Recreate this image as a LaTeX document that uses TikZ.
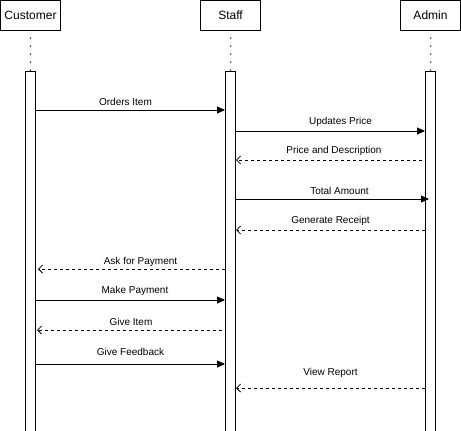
\documentclass[tikz,border=0pt]{standalone}
\usepackage{fontspec}
\setmainfont{Liberation Sans}
\usetikzlibrary{arrows.meta}

\begin{document}
\begin{tikzpicture}[x=1pt, y=-1pt, line width=1pt,
  actor/.style={draw, minimum width=60pt, minimum height=30pt, inner sep=0pt,
    font=\fontsize{12}{14}\selectfont},
  lifebar/.style={draw, fill=white, minimum width=10pt, minimum height=360pt,
    inner sep=0pt, anchor=north},
  lifeline/.style={line width=1.5pt, line cap=round, dash pattern=on 0pt off 8pt},
  lbl/.style={midway, above, inner sep=4pt, font=\fontsize{10}{12}\selectfont},
  call/.style={-{Triangle[length=8pt, width=7pt]}},
  reply/.style={dash pattern=on 3pt off 3pt,
    -{Straight Barb[length=4pt, width=8pt, line width=0.8pt]}}
]
\useasboundingbox (0,0) rectangle (461,431);

% participants
\node[actor] (cust)  at (30.5,15.5)  {Customer};
\node[actor] (staff) at (230.5,15.5) {Staff};
\node[actor] (admin) at (430.5,15.5) {Admin};

% activation bars
\node[lifebar] (cbar) at (30.5,70.5)  {};
\node[lifebar] (sbar) at (230.5,70.5) {};
\node[lifebar] (abar) at (430.5,70.5) {};

% dotted lifelines between heads and bars
\draw[lifeline] ([yshift=-7pt]cust.south)  -- (cbar.north);
\draw[lifeline] ([yshift=-7pt]staff.south) -- (sbar.north);
\draw[lifeline] ([yshift=-7pt]admin.south) -- (abar.north);

% messages
\draw[call]  (cbar.east |- 0,110) -- (sbar.west |- 0,110)
  node[lbl, xshift=-5pt] {Orders Item};
\draw[call]  (sbar.east |- 0,131) -- (abar.west |- 0,131)
  node[lbl, xshift=10pt] {Updates Price};
\draw[reply] ([xshift=-3pt]abar.west |- 0,160) -- (sbar.east |- 0,160)
  node[lbl, xshift=5pt] {Price and Description};
\draw[call]  (sbar.east |- 0,199) -- ([xshift=4pt]abar.west |- 0,199)
  node[lbl, xshift=7pt] {Total Amount};
\draw[reply] (abar.west |- 0,230) -- (sbar.east |- 0,230)
  node[lbl] {Generate Receipt};
\draw[reply] (sbar.west |- 0,269) -- ([xshift=2pt]cbar.east |- 0,269)
  node[lbl, inner sep=2pt, xshift=9pt] {Ask for Payment};
\draw[call]  (cbar.east |- 0,300) -- (sbar.west |- 0,300)
  node[lbl, xshift=4.5pt] {Make Payment};
\draw[reply] ([xshift=-3pt]sbar.west |- 0,330) -- ([xshift=1pt]cbar.east |- 0,330)
  node[lbl, xshift=1.5pt] {Give Item};
\draw[call]  (cbar.east |- 0,364) -- (sbar.west |- 0,364)
  node[lbl, inner sep=8pt] {Give Feedback};
\draw[reply] (abar.west |- 0,388) -- (sbar.east |- 0,388)
  node[lbl, inner sep=10pt] {View Report};
\end{tikzpicture}
\end{document}
